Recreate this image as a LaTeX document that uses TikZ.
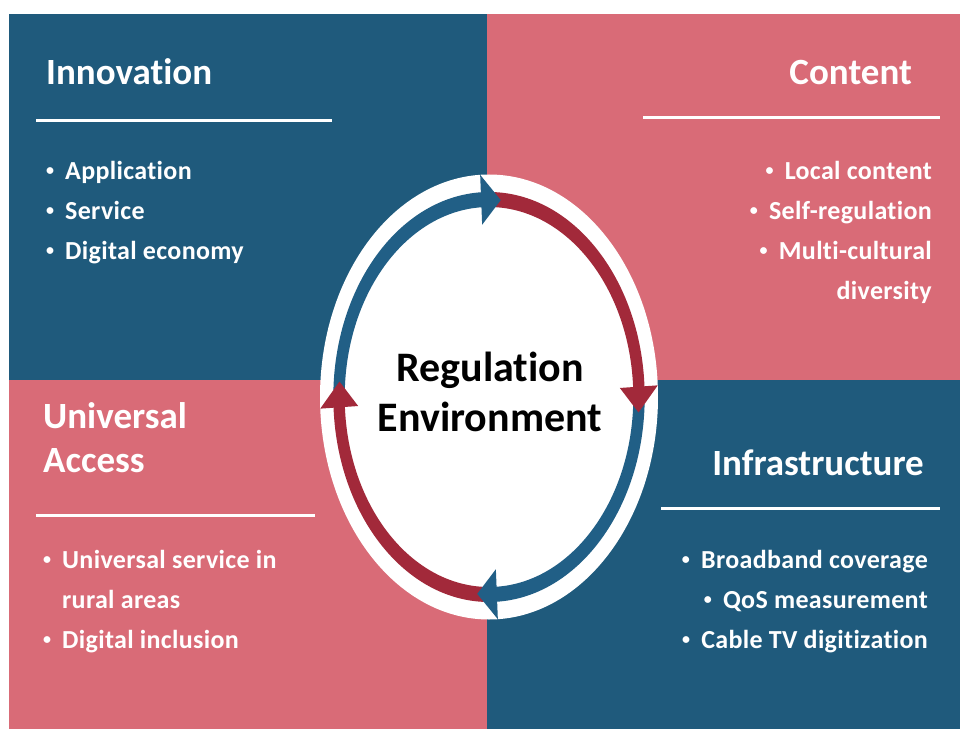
\documentclass[tikz,border=0pt]{standalone}
\usepackage{fontspec}
\setmainfont{Carlito}[Ligatures={NoCommon}]
\definecolor{qblue}{HTML}{1F5A7C}
\definecolor{qpink}{HTML}{D96B77}
\definecolor{arrblue}{HTML}{215F86}
\definecolor{arrred}{HTML}{A2293A}
\newcommand{\ringband}[3]{\fill[#1] (#2:205) arc[start angle=#2,end angle=#3,radius=205] -- (#3:190) arc[start angle=#3,end angle=#2,radius=190] -- cycle;}
\newcommand{\ringhead}[3]{\fill[#1] (#2:222.5) -- (#3:197.5) -- (#2:172.5) -- cycle;}
\tikzset{
  headtxt/.style={text=white, font=\bfseries\fontsize{37}{44}\selectfont, inner sep=0pt, align=left},
  itemtxt/.style={text=white, font=\bfseries\fontsize{26}{30}\selectfont\addfontfeatures{LetterSpace=1.3}, inner sep=0pt},
  bul/.style={text=white, font=\bfseries\fontsize{16}{18}\selectfont, inner sep=0pt, anchor=base},
  rulewhite/.style={draw=white, line width=3pt},
  centertxt/.style={text=black, font=\bfseries\fontsize{42}{50}\selectfont, inner sep=0pt, align=center}
}
\begin{document}
\begin{tikzpicture}[x=1pt,y=1pt]
\useasboundingbox (0,0) rectangle (960,729);
\fill[white] (0,0) rectangle (960,729);
% quadrants
\fill[qblue] (9,349) rectangle (487,715);
\fill[qpink] (487,349) rectangle (960,715);
\fill[qpink] (9,0) rectangle (487,349);
\fill[qblue] (487,0) rectangle (960,349);
% ring
\begin{scope}[shift={(489,332)}, xscale=0.7595]
  \fill[white] (0,0) circle (222.5);
  \ringband{arrblue}{178}{92.5}
  \ringband{arrred}{88}{2.5}
  \ringband{arrblue}{-2}{-87.5}
  \ringband{arrred}{-92}{-177.5}
  \ringhead{arrblue}{93}{85.5}
  \ringhead{arrred}{3}{-4.5}
  \ringhead{arrblue}{-87}{-94.5}
  \ringhead{arrred}{-177}{-184.5}
\end{scope}
\node[centertxt, anchor=base] (reg) at (490,347.3) {Regulation};
\node[centertxt, anchor=base] (env) at (490,297.3) {Environment};
% Innovation
\node[headtxt, anchor=base west] (inn) at (46,644) {Innovation};
\coordinate (innL) at (36,608.3); \coordinate (innR) at (332,608.3);
\draw[rulewhite] (innL) -- (innR);
\node[itemtxt, anchor=base west] (i1) at (65,549) {Application};
\node[itemtxt, anchor=base west] (i2) at (65,509) {Service};
\node[itemtxt, anchor=base west] (i3) at (65,469) {Digital economy};
\node[bul] (bi1) at ([xshift=-15pt,yshift=4pt]i1.base west) {•};
\node[bul] (bi2) at ([xshift=-15pt,yshift=4pt]i2.base west) {•};
\node[bul] (bi3) at ([xshift=-15pt,yshift=4pt]i3.base west) {•};
% Content
\node[headtxt, anchor=base east] (con) at (912,644) {Content};
\coordinate (conL) at (643,611.7); \coordinate (conR) at (940,611.7);
\draw[rulewhite] (conL) -- (conR);
\node[itemtxt, anchor=base east] (c1) at (932,549) {Local content};
\node[itemtxt, anchor=base east] (c2) at (932,509) {Self-regulation};
\node[itemtxt, anchor=base east] (c3) at (932,469) {Multi-cultural};
\node[itemtxt, anchor=base east] (c4) at (932,429) {diversity};
\node[bul] (bc1) at ([xshift=-15pt,yshift=4pt]c1.base west) {•};
\node[bul] (bc2) at ([xshift=-15pt,yshift=4pt]c2.base west) {•};
\node[bul] (bc3) at ([xshift=-15pt,yshift=4pt]c3.base west) {•};
% Universal Access
\node[headtxt, anchor=base west] (ua1) at (43,301) {Universal};
\node[headtxt, anchor=base west] (ua2) at (43,257) {Access};
\coordinate (uaL) at (36,213.3); \coordinate (uaR) at (315,213.3);
\draw[rulewhite] (uaL) -- (uaR);
\node[itemtxt, anchor=base west] (u1) at (62,161) {Universal service in};
\node[itemtxt, anchor=base west] (u2) at (62,121) {rural areas};
\node[itemtxt, anchor=base west] (u3) at (62,81) {Digital inclusion};
\node[bul] (bu1) at ([xshift=-15pt,yshift=4pt]u1.base west) {•};
\node[bul] (bu3) at ([xshift=-15pt,yshift=4pt]u3.base west) {•};
% Infrastructure
\node[headtxt, anchor=base east] (inf) at (924,254) {Infrastructure};
\coordinate (infL) at (661,221); \coordinate (infR) at (940,221);
\draw[rulewhite] (infL) -- (infR);
\node[itemtxt, anchor=base east] (f1) at (928,161) {Broadband coverage};
\node[itemtxt, anchor=base east] (f2) at (928,121) {QoS measurement};
\node[itemtxt, anchor=base east] (f3) at (928,81) {Cable TV digitization};
\node[bul] (bf1) at ([xshift=-15pt,yshift=4pt]f1.base west) {•};
\node[bul] (bf2) at ([xshift=-15pt,yshift=4pt]f2.base west) {•};
\node[bul] (bf3) at ([xshift=-15pt,yshift=4pt]f3.base west) {•};
\end{tikzpicture}
\end{document}
